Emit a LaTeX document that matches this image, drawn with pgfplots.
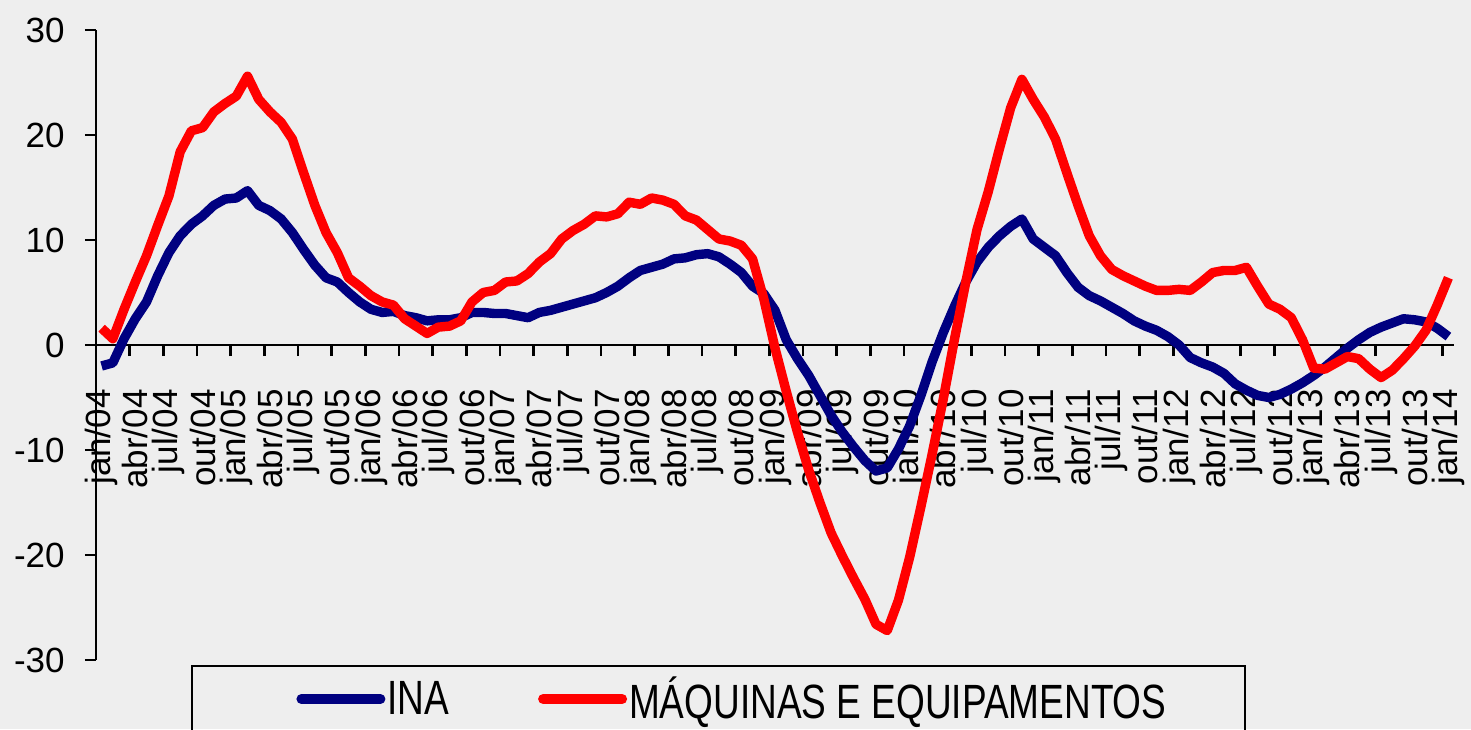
\documentclass[border=0pt]{standalone}
\usepackage{pgfplots}
\pgfplotsset{compat=1.18}
\usepackage{graphicx}
\usepackage{fontspec}
\setmainfont{Liberation Sans}
\definecolor{ina}{RGB}{0,0,128}
\definecolor{maq}{RGB}{255,0,0}
\definecolor{bg}{RGB}{238,238,238}
\begin{document}
\begin{tikzpicture}
\begin{axis}[
  at={(48pt,34.5pt)}, anchor=south west,
  scale only axis, width=679pt, height=315pt,
  set layers,
  xmin=-0.5, xmax=120.5, ymin=-30, ymax=30,
  axis x line=bottom, axis y line=left,
  axis x line shift=-157.5pt,
  axis line style={-, line width=1.4pt, black},
  tick align=outside,
  ytick={-30,-20,...,30},
  yticklabels={-30,-20,-10,0,10,20,30},
  ytick style={line width=1.4pt, black},
  xtick style={line width=1.4pt, black},
  major tick length=5.5pt,
  xtick={-0.5,2.5,...,119.5},
  xticklabels={jan/04,abr/04,jul/04,out/04,jan/05,abr/05,jul/05,out/05,jan/06,abr/06,jul/06,out/06,jan/07,abr/07,jul/07,out/07,jan/08,abr/08,jul/08,out/08,jan/09,abr/09,jul/09,out/09,jan/10,abr/10,jul/10,out/10,jan/11,abr/11,jul/11,out/11,jan/12,abr/12,jul/12,out/12,jan/13,abr/13,jul/13,out/13,jan/14},
  xticklabel style={font=\fontsize{17.5}{18}\selectfont, xshift=2.8pt, yshift=-10pt, rotate=90, anchor=east, inner sep=0pt},
  yticklabel style={font=\fontsize{17.5}{18}\selectfont, anchor=east, inner sep=0pt},
  xticklabel shift=6.5pt,
  yticklabel shift=10pt,
  legend style={at={(0.1473,0)}, anchor=west, yshift=-19.5pt, draw=none, fill=none,
    inner sep=0pt, nodes={inner sep=1pt}, font=\fontsize{18.5}{20}\selectfont,
    /tikz/every even column/.append style={column sep=43.5pt}},
  legend columns=2,
  legend cell align=left,
  legend image code/.code={\draw[#1, line cap=round, line width=5pt] (0pt,0pt) -- (39.5pt,0pt);},
]
\begin{pgfonlayer}{axis background}
\fill[bg] ([xshift=-48pt,yshift=-34.5pt]rel axis cs:0,0) rectangle ++(735.5pt,364.5pt);
\end{pgfonlayer}
\addplot[ina, line width=4.7pt, line join=round] coordinates {
(0,-2.0) (1,-1.7) (2,0.6) (3,2.5) (4,4.1) (5,6.6) (6,8.8) (7,10.4) (8,11.5) (9,12.3)
(10,13.3) (11,13.9) (12,14.0) (13,14.7) (14,13.3) (15,12.8) (16,12.0) (17,10.7) (18,9.1) (19,7.6)
(20,6.4) (21,6.0) (22,5.0) (23,4.1) (24,3.4) (25,3.1) (26,3.2) (27,2.8) (28,2.6) (29,2.3)
(30,2.4) (31,2.4) (32,2.6) (33,3.1) (34,3.1) (35,3.0) (36,3.0) (37,2.8) (38,2.6) (39,3.1)
(40,3.3) (41,3.6) (42,3.9) (43,4.2) (44,4.5) (45,5.0) (46,5.6) (47,6.4) (48,7.1) (49,7.4)
(50,7.7) (51,8.2) (52,8.3) (53,8.6) (54,8.7) (55,8.4) (56,7.7) (57,6.9) (58,5.6) (59,4.9)
(60,3.3) (61,0.5) (62,-1.3) (63,-2.9) (64,-4.8) (65,-6.7) (66,-8.3) (67,-9.7) (68,-11.0) (69,-12.0)
(70,-11.7) (71,-9.9) (72,-7.7) (73,-4.8) (74,-1.6) (75,1.2) (76,3.7) (77,6.0) (78,7.9) (79,9.3)
(80,10.4) (81,11.3) (82,12.0) (83,10.1) (84,9.3) (85,8.5) (86,6.9) (87,5.5) (88,4.7) (89,4.2)
(90,3.6) (91,3.0) (92,2.3) (93,1.8) (94,1.4) (95,0.8) (96,0.0) (97,-1.2) (98,-1.7) (99,-2.1)
(100,-2.7) (101,-3.7) (102,-4.3) (103,-4.8) (104,-5.0) (105,-4.7) (106,-4.2) (107,-3.6) (108,-2.9) (109,-2.1)
(110,-1.2) (111,-0.3) (112,0.5) (113,1.2) (114,1.7) (115,2.1) (116,2.5) (117,2.4) (118,2.2) (119,1.6)
(120,0.8)
};
\addlegendentry{\scalebox{1}[1.3]{INA}}
\addplot[maq, line width=4.7pt, line join=round] coordinates {
(0,1.6) (1,0.6) (2,3.4) (3,6.0) (4,8.5) (5,11.4) (6,14.2) (7,18.4) (8,20.4) (9,20.7)
(10,22.2) (11,23.0) (12,23.7) (13,25.6) (14,23.4) (15,22.2) (16,21.2) (17,19.6) (18,16.4) (19,13.3)
(20,10.7) (21,8.8) (22,6.4) (23,5.6) (24,4.7) (25,4.1) (26,3.8) (27,2.5) (28,1.8) (29,1.1)
(30,1.7) (31,1.8) (32,2.3) (33,4.1) (34,5.0) (35,5.2) (36,6.0) (37,6.1) (38,6.8) (39,7.9)
(40,8.7) (41,10.1) (42,10.9) (43,11.5) (44,12.3) (45,12.2) (46,12.5) (47,13.6) (48,13.4) (49,14.0)
(50,13.8) (51,13.4) (52,12.3) (53,11.9) (54,11.0) (55,10.1) (56,9.9) (57,9.5) (58,8.2) (59,4.4)
(60,-0.3) (61,-4.4) (62,-8.3) (63,-11.9) (64,-15.0) (65,-17.9) (66,-20.1) (67,-22.2) (68,-24.2) (69,-26.6)
(70,-27.2) (71,-24.3) (72,-20.2) (73,-15.4) (74,-10.4) (75,-5.1) (76,0.6) (77,6.0) (78,11.0) (79,14.6)
(80,18.7) (81,22.6) (82,25.3) (83,23.4) (84,21.7) (85,19.6) (86,16.4) (87,13.3) (88,10.4) (89,8.5)
(90,7.2) (91,6.6) (92,6.1) (93,5.6) (94,5.2) (95,5.2) (96,5.3) (97,5.2) (98,6.0) (99,6.9)
(100,7.1) (101,7.1) (102,7.4) (103,5.6) (104,3.9) (105,3.4) (106,2.6) (107,0.5) (108,-2.2) (109,-2.3)
(110,-1.7) (111,-1.1) (112,-1.3) (113,-2.3) (114,-3.1) (115,-2.4) (116,-1.3) (117,-0.1) (118,1.4) (119,3.8)
(120,6.4)
};
\addlegendentry{\scalebox{1}[1.3]{MÁQUINAS E EQUIPAMENTOS}}
\end{axis}
\draw[line width=1.4pt] (96pt,31.5pt) rectangle (622.5pt,-20pt);
\pgfresetboundingbox
\path[use as bounding box] (0,0) rectangle (735.5pt,364.5pt);
\end{tikzpicture}
\end{document}
